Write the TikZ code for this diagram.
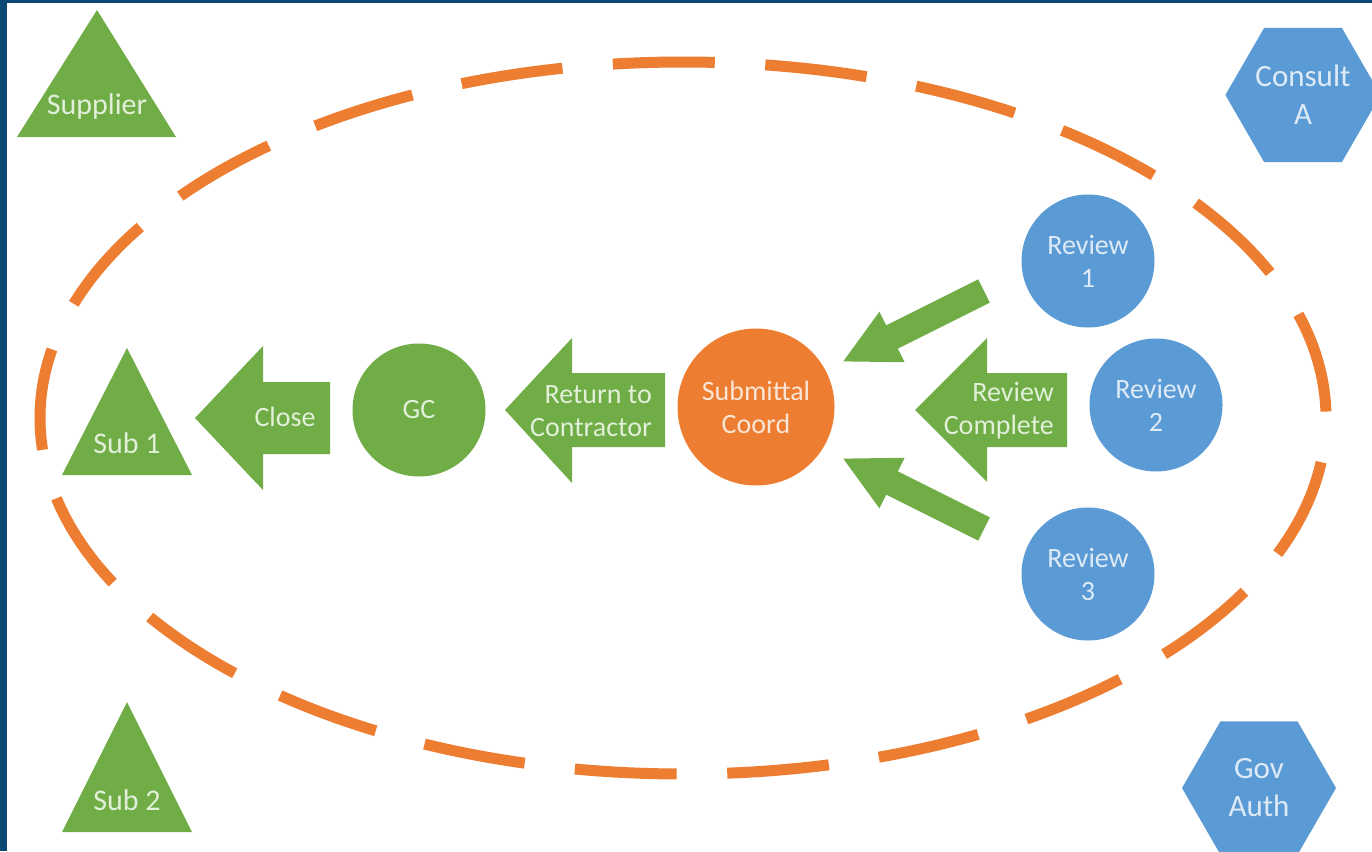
\documentclass[tikz,border=0pt]{standalone}
\usepackage{fontspec}
\setmainfont{Carlito}
\usepackage{tikz}
\usetikzlibrary{shapes.geometric,arrows.meta,positioning}

\definecolor{frameblue}{RGB}{12,72,116}
\definecolor{offgreen}{RGB}{112,173,71}
\definecolor{offblue}{RGB}{91,155,213}
\definecolor{offorange}{RGB}{237,125,49}
\definecolor{txtgreen}{RGB}{226,240,217}
\definecolor{txtblue}{RGB}{222,235,247}
\definecolor{txtorange}{RGB}{251,229,214}

\tikzset{
    lbl/.style={align=center, inner sep=0pt, font=\fontsize{28}{33}\selectfont},
    greenlbl/.style={lbl, text=txtgreen},
    bluelbl/.style={lbl, text=txtblue},
    greenball/.style={circle, fill=offgreen, minimum size=133pt, greenlbl},
    blueball/.style={circle, fill=offblue, minimum size=133pt, bluelbl},
    hexa/.style={regular polygon, regular polygon sides=6, fill=offblue, minimum size=154pt,
        bluelbl, font=\fontsize{31}{38}\selectfont},
    slantarrow/.style={draw=offgreen, line width=26pt, -{Triangle[width=52pt,length=56pt]}}
}

\begin{document}
\begin{tikzpicture}[x=1pt, y=-1pt]
    \useasboundingbox (0,0) rectangle (1372,851);
    \fill[frameblue] (0,0) rectangle (1372,851);
    \fill[white] (7,3) rectangle (1372,851);

    \draw[offorange, line width=11pt, dash pattern=on 102pt off 50.55pt, dash phase=108pt]
        (683,418) ellipse [x radius=643, y radius=356];

    \fill[offgreen] (97,10) -- (176,137) -- (17,137) -- cycle;
    \node[greenlbl, font=\fontsize{30}{36}\selectfont] (sup) at (97,107) {Supplier};

    \fill[offgreen] (127,348) -- (192,475) -- (62,475) -- cycle;
    \node[greenlbl, font=\fontsize{30}{36}\selectfont] (sub1) at (127,443) {Sub 1};

    \fill[offgreen] (127,702) -- (192,832) -- (62,832) -- cycle;
    \node[greenlbl, font=\fontsize{30}{36}\selectfont] (sub2) at (127,800) {Sub 2};

    \node[hexa] (consult) at (1303,95) {Consult\\A};
    \node[hexa] (gov) at (1259,788) {Gov\\Auth};

    \fill[offgreen] (330,382) -- (263,382) -- (263,346) -- (195,418) -- (263,490) -- (263,454) -- (330,454) -- cycle;
    \node[greenlbl] (close) at (285,417) {Close};

    \node[greenball] (gc) at (419,410) {GC};

    \fill[offgreen] (665,373) -- (572,373) -- (572,338) -- (505,410) -- (572,483) -- (572,447) -- (665,447) -- cycle;
    \node[greenlbl, align=right, anchor=east] (ret) at (652,411) {Return to\\Contractor};

    \node[circle, fill=offorange, minimum size=157pt, lbl, text=txtorange] (subm) at (756,407) {Submittal\\Coord};

    \fill[offgreen] (1067,373) -- (987,373) -- (987,338) -- (915,410) -- (987,482) -- (987,447) -- (1067,447) -- cycle;
    \node[greenlbl, align=right, anchor=east] (revdone) at (1054,411) {Review\\Complete};

    \node[blueball] (rev1) at (1088,261) {Review\\1};
    \node[blueball] (rev2) at (1156,405) {Review\\2};
    \node[blueball] (rev3) at (1088,574) {Review\\3};

    \coordinate (r1tail) at (984,291);
    \coordinate (r1tip) at (842,362);
    \coordinate (r3tail) at (984,529);
    \coordinate (r3tip) at (842,458);
    \draw[slantarrow] (r1tail) -- (r1tip);
    \draw[slantarrow] (r3tail) -- (r3tip);
\end{tikzpicture}
\end{document}
